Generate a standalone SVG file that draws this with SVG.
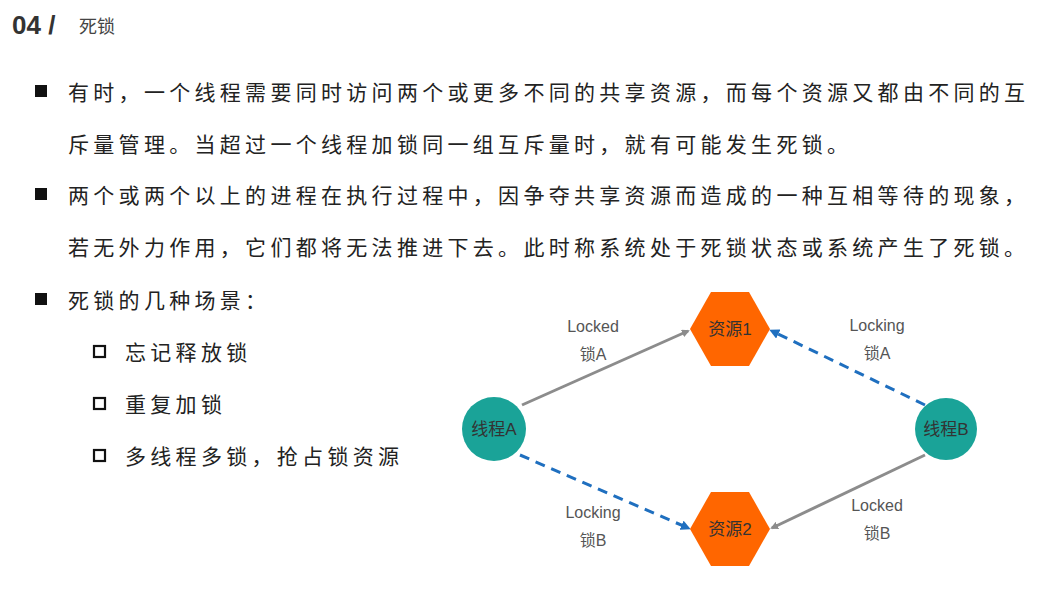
<svg xmlns="http://www.w3.org/2000/svg" width="1038" height="598" viewBox="0 0 1038 598">
<style>
.t{font-family:"Noto Sans CJK SC","Liberation Sans",sans-serif;font-size:21px;fill:#222;letter-spacing:4.3px}
.l{font-family:"Liberation Sans","Noto Sans CJK SC",sans-serif;font-size:16px;fill:#555;text-anchor:middle}
.n{font-family:"Liberation Sans","Noto Sans CJK SC",sans-serif;font-size:17px;fill:#333;text-anchor:middle;dominant-baseline:central}
.s{stroke:#8c8c8c;stroke-width:3;fill:none}
.d{stroke:#1f6fbf;stroke-width:3;fill:none;stroke-dasharray:10 7}
</style>
<defs>
<marker id="mg" markerWidth="8" markerHeight="8" refX="6" refY="4" orient="auto" markerUnits="userSpaceOnUse"><path d="M0,0L8,4L0,8z" fill="#8c8c8c"/></marker>
<marker id="mb" markerWidth="10" markerHeight="10" refX="7" refY="5" orient="auto" markerUnits="userSpaceOnUse"><path d="M0,0L10,5L0,10z" fill="#1f6fbf"/></marker>
</defs>
<rect width="1038" height="598" fill="#fff"/>
<text x="12" y="34" font-family="Liberation Sans,sans-serif" font-size="26" font-weight="bold" fill="#333">04 /</text>
<text x="79" y="33" font-family="Noto Sans CJK SC,sans-serif" font-size="18" fill="#444">死锁</text>
<g>
<rect x="35" y="85" width="12" height="12" fill="#111"/>
<text class="t" x="68" y="100">有时，一个线程需要同时访问两个或更多不同的共享资源，而每个资源又都由不同的互</text>
<text class="t" x="68" y="152">斥量管理。当超过一个线程加锁同一组互斥量时，就有可能发生死锁。</text>
<rect x="35" y="188" width="12" height="12" fill="#111"/>
<text class="t" x="68" y="203">两个或两个以上的进程在执行过程中，因争夺共享资源而造成的一种互相等待的现象，</text>
<text class="t" x="68" y="255">若无外力作用，它们都将无法推进下去。此时称系统处于死锁状态或系统产生了死锁。</text>
<rect x="35" y="293" width="12" height="12" fill="#111"/>
<text class="t" x="68" y="308">死锁的几种场景：</text>
<rect x="94" y="346" width="11" height="11" fill="none" stroke="#111" stroke-width="2.2"/>
<text class="t" x="125" y="360">忘记释放锁</text>
<rect x="94" y="398" width="11" height="11" fill="none" stroke="#111" stroke-width="2.2"/>
<text class="t" x="125" y="412">重复加锁</text>
<rect x="94" y="450" width="11" height="11" fill="none" stroke="#111" stroke-width="2.2"/>
<text class="t" x="125" y="464">多线程多锁，抢占锁资源</text>
</g>
<g id="connectors">
<line class="s" x1="522" y1="405" x2="688" y2="331" marker-end="url(#mg)"/>
<line class="d" x1="925" y1="405" x2="772" y2="331" marker-end="url(#mb)"/>
<line class="d" x1="520" y1="455" x2="688" y2="528" marker-end="url(#mb)"/>
<line class="s" x1="925" y1="455" x2="772" y2="528" marker-end="url(#mg)"/>
<text class="l" x="593" y="332">Locked</text><text class="l" x="593" y="360">锁A</text>
<text class="l" x="877" y="331">Locking</text><text class="l" x="877" y="359">锁A</text>
<text class="l" x="593" y="518">Locking</text><text class="l" x="593" y="546">锁B</text>
<text class="l" x="877" y="511">Locked</text><text class="l" x="877" y="539">锁B</text>
</g>
<g id="res1"><polygon points="690,329 711,292 749,292 770,329 749,366 711,366" fill="#ff6600"/><text class="n" x="730" y="329">资源1</text></g>
<g id="res2"><polygon points="690,529 711,492 749,492 770,529 749,566 711,566" fill="#ff6600"/><text class="n" x="730" y="529">资源2</text></g>
<g id="threadA"><circle cx="494" cy="429" r="32" fill="#1aa398"/><text class="n" x="494" y="429">线程A</text></g>
<g id="threadB"><circle cx="946" cy="429" r="31" fill="#1aa398"/><text class="n" x="946" y="429">线程B</text></g>
</svg>
